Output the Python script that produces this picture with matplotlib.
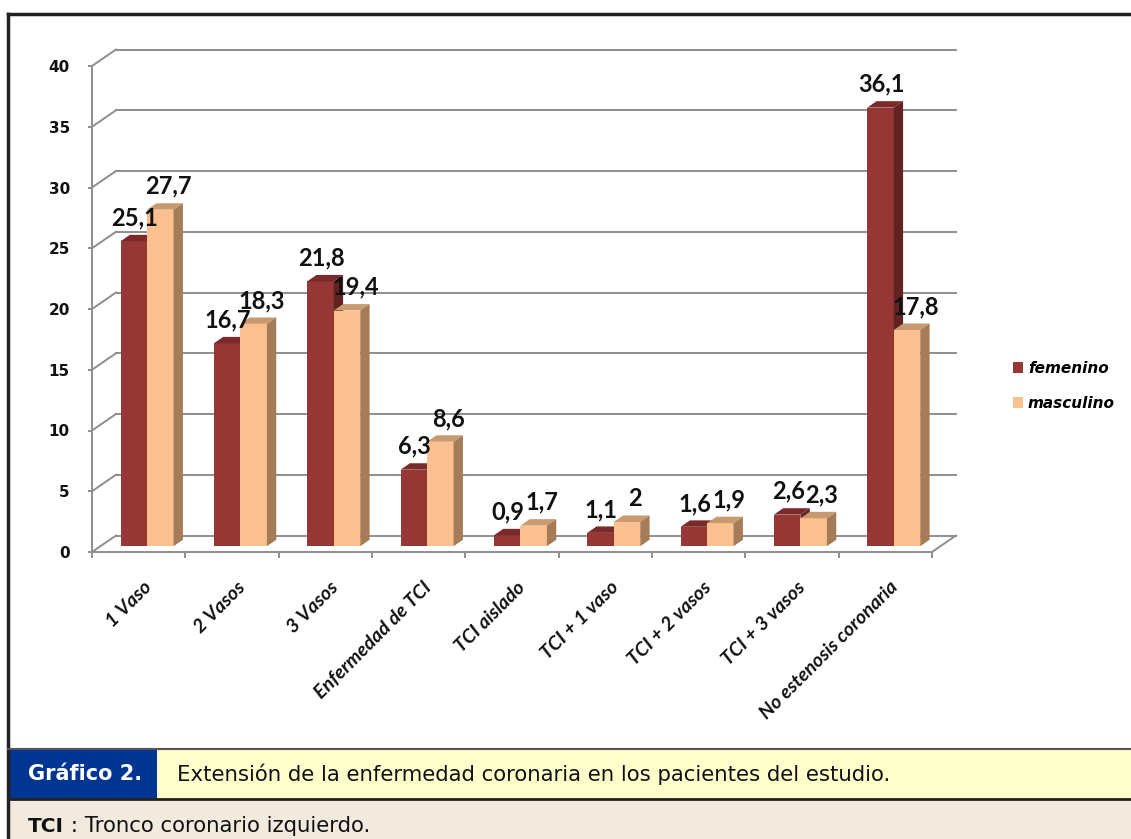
import numpy as np
import matplotlib
matplotlib.use('Agg')
import matplotlib.pyplot as plt
from matplotlib.patches import Rectangle, Polygon, Patch

categories = ['1 Vaso', '2 Vasos', '3 Vasos', 'Enfermedad de TCI', 'TCI aislado',
              'TCI + 1 vaso', 'TCI + 2 vasos', 'TCI + 3 vasos', 'No estenosis coronaria']
femenino = [25.1, 16.7, 21.8, 6.3, 0.9, 1.1, 1.6, 2.6, 36.1]
masculino = [27.7, 18.3, 19.4, 8.6, 1.7, 2, 1.9, 2.3, 17.8]
yticks = [0, 5, 10, 15, 20, 25, 30, 35, 40]

W, H = 1131, 839
fem_front, fem_top, fem_side = '#953735', '#7a2a29', '#612321'
masc_front, masc_top, masc_side = '#fac090', '#c99a6e', '#a57b58'
grid_col = '#8e8e8e'

fig = plt.figure(figsize=(W / 100, H / 100), dpi=100)

# background: frame and caption bands, in pixel coords
bg = fig.add_axes([0, 0, 1, 1])
bg.set_xlim(0, W)
bg.set_ylim(H, 0)
bg.axis('off')
bg.add_patch(Rectangle((8, 749), 149, 50, fc='#003591', ec='none'))
bg.add_patch(Rectangle((157, 749), W - 157, 50, fc='#ffffcc', ec='none'))
bg.add_patch(Rectangle((8, 799), W - 8, 40, fc='#f2eadf', ec='none'))
bg.plot([8, W], [14, 14], color='#222222', lw=2.5)
bg.plot([8, 8], [14, H], color='#222222', lw=2.5)
bg.plot([8, W], [749, 749], color='#555555', lw=1.5)
bg.plot([8, W], [799, 799], color='#222222', lw=2)
bg.text(28, 774, 'Gráfico 2.', color='white', fontweight='bold', fontsize=15, va='center')
bg.text(177, 774, 'Extensión de la enfermedad coronaria en los pacientes del estudio.',
        fontsize=15.3, va='center', color='#111111')
t = bg.text(28, 826, 'TCI', fontweight='bold', fontsize=14.5, va='center', color='#111111')
bg.annotate(' : Tronco coronario izquierdo.', xy=(1, 0.5), xycoords=t, va='center',
            fontsize=15.3, color='#111111')

# chart axes: front plane of the 3D box
ax = fig.add_axes([92 / W, (H - 552) / H, 840 / W, 486 / H])
ax.patch.set_visible(False)
ax.set_xlim(-0.5, 8.5)
ax.set_ylim(0, 40)

DX = 24 / (840 / 9)       # depth offset in category units
DY = 16.5 / (486 / 40)    # depth offset in value units
D0, BD, BW = 0.35, 0.39, 0.284

# back wall, left wall and floor
for v in yticks:
    ax.plot([-0.5 + DX, 8.5 + DX], [v + DY, v + DY], color=grid_col, lw=1.4, clip_on=False, zorder=1)
    ax.plot([-0.5, -0.5 + DX], [v, v + DY], color=grid_col, lw=1.4, clip_on=False, zorder=1)
ax.plot([8.5, 8.5 + DX], [0, DY], color=grid_col, lw=1.4, clip_on=False, zorder=1)

for s in ['top', 'right']:
    ax.spines[s].set_visible(False)
for s in ['left', 'bottom']:
    ax.spines[s].set_color(grid_col)
    ax.spines[s].set_linewidth(1.4)

ax.set_yticks(yticks)
ax.set_yticklabels([str(v) for v in yticks], fontweight='bold', fontsize=11, color='#111111')
ax.tick_params(axis='y', length=3, width=1.4, color=grid_col, pad=13)

ax.set_xticks(np.arange(len(categories)) + 0.045)
ax.set_xticklabels(categories, rotation=45, ha='right', va='top', rotation_mode='anchor',
                   fontsize=14, fontweight='bold', style='italic', family='Lato', color='#111111')
ax.set_xticks(np.arange(-0.5, len(categories), 1), minor=True)
ax.tick_params(axis='x', which='major', length=0, pad=19)
ax.tick_params(axis='x', which='minor', length=4.5, width=1.4, color=grid_col)

x = np.arange(len(categories)) + D0 * DX
base = D0 * DY
bdx, bdy = BD * DX, BD * DY


def bars3d(xs, vals, front, top, side, z, lbl_dx):
    ax.bar(xs, vals, width=BW, bottom=base, color=front, linewidth=0, zorder=z)
    for xc, v in zip(xs, vals):
        x0, x1 = xc - BW / 2, xc + BW / 2
        y0, y1 = base, base + v
        ax.add_patch(Polygon([(x0, y1), (x1, y1), (x1 + bdx, y1 + bdy), (x0 + bdx, y1 + bdy)],
                             closed=True, fc=top, ec='none', zorder=z, clip_on=False))
        ax.add_patch(Polygon([(x1, y0), (x1 + bdx, y0 + bdy), (x1 + bdx, y1 + bdy), (x1, y1)],
                             closed=True, fc=side, ec='none', zorder=z, clip_on=False))
        ax.text(xc + lbl_dx, y1 + 1.3, f'{v:g}'.replace('.', ','), ha='center', va='baseline',
                fontsize=17, fontweight='bold', family='Lato', color='#111111', zorder=5, clip_on=False)


bars3d(x - BW / 2, femenino, fem_front, fem_top, fem_side, 2, 0.01)
bars3d(x + BW / 2, masculino, masc_front, masc_top, masc_side, 3, 0.09)

handles = [Patch(fc=fem_front), Patch(fc=masc_front)]
fig.legend(handles, ['femenino', 'masculino'], loc='center left',
           bbox_to_anchor=(999 / W, 1 - 386 / H), frameon=False,
           prop=dict(weight='bold', style='italic', size=11),
           handlelength=0.7, handleheight=0.7, handletextpad=0.3, labelspacing=1.3)

fig.savefig('out.png', dpi=100)
